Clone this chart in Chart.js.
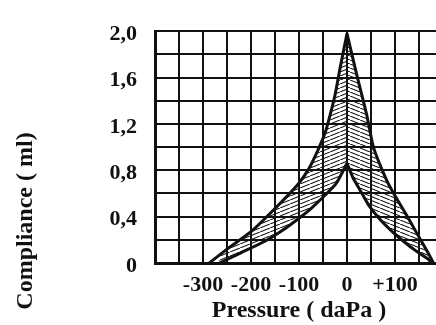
<!DOCTYPE html>
<html>
<head>
<meta charset="utf-8">
<script src="https://cdn.jsdelivr.net/npm/chart.js@4/dist/chart.umd.min.js"></script>
<style>
  html, body { margin: 0; padding: 0; background: #fff; overflow: hidden; }
  #wrap { position: relative; width: 452px; height: 325px; }
</style>
</head>
<body>
<div id="wrap"><canvas id="chart" width="452" height="325"></canvas></div>
<script>
// Curves (pressure daPa, compliance ml)
var leftOuterX  = [-287, -250, -200, -150, -102, -80, -61, -45, -35, -25, -14, 0];
var leftOuterY  = [0, 0.12, 0.27, 0.47, 0.68, 0.81, 0.97, 1.13, 1.28, 1.45, 1.69, 1.98];
var leftInnerX  = [-266, -220, -170, -135, -102, -75, -47, -22, 0];
var leftInnerY  = [0, 0.09, 0.19, 0.28, 0.38, 0.47, 0.58, 0.69, 0.86];
var rightOuterX = [0, 20, 41, 55, 82, 100, 123, 145, 170, 180];
var rightOuterY = [1.98, 1.63, 1.28, 1.0, 0.72, 0.58, 0.42, 0.26, 0.08, 0];
var rightInnerX = [0, 12, 27, 45, 68, 92, 117, 145, 170, 176];
var rightInnerY = [0.86, 0.74, 0.63, 0.5, 0.38, 0.28, 0.19, 0.1, 0.03, 0];

// Tick labels
var xTickValues = [-300, -200, -100, 0, 100];
var xTickText   = ['-300', '-200', '-100', '0', '+100'];
var yTickValues = [0, 0.4, 0.8, 1.2, 1.6, 2.0];
var yTickText   = ['0', '0,4', '0,8', '1,2', '1,6', '2,0'];

var xTitle = 'Pressure ( daPa )';
var yTitle = 'Compliance ( ml)';

function pts(xs, ys) {
    var out = [];
    for (var i = 0; i < xs.length; i++) out.push({x: xs[i], y: ys[i]});
    return out;
}

// hatch pattern, dir 1 = rising to the right, -1 = falling
function hatch(dir) {
    var w = 10, h = 4;
    var c = document.createElement('canvas');
    c.width = w; c.height = h;
    var g = c.getContext('2d');
    g.strokeStyle = '#111';
    g.lineWidth = 1.1;
    g.beginPath();
    for (var k = -1; k <= 1; k++) {
        if (dir > 0) { g.moveTo(k * w, h); g.lineTo((k + 1) * w, 0); }
        else { g.moveTo(k * w, 0); g.lineTo((k + 1) * w, h); }
    }
    g.stroke();
    return g.createPattern(c, 'repeat');
}

function findLabel(values, texts, v) {
    for (var i = 0; i < values.length; i++) {
        if (Math.abs(values[i] - v) < 1e-6) return texts[i];
    }
    return '';
}

var serif = '"Liberation Serif", "Times New Roman", serif';

// y axis title sits low in the original, draw it by hand
var yTitlePlugin = {
    id: 'yTitlePlugin',
    afterDraw: function(chart) {
        var ctx = chart.ctx;
        ctx.save();
        ctx.translate(26, 221);
        ctx.rotate(-Math.PI / 2);
        ctx.font = 'bold 24px ' + serif;
        ctx.fillStyle = '#111';
        ctx.textAlign = 'center';
        ctx.textBaseline = 'middle';
        ctx.fillText(yTitle, 0, 0);
        ctx.restore();
    }
};

var lineStyle = {
    borderColor: '#111',
    borderWidth: 3,
    pointRadius: 0,
    tension: 0.2,
    clip: false
};

new Chart(document.getElementById('chart'), {
    type: 'line',
    data: {
        datasets: [
            Object.assign({data: pts(leftOuterX, leftOuterY), fill: '+1', backgroundColor: hatch(1)}, lineStyle),
            Object.assign({data: pts(leftInnerX, leftInnerY), fill: false}, lineStyle),
            Object.assign({data: pts(rightOuterX, rightOuterY), fill: '+1', backgroundColor: hatch(-1)}, lineStyle),
            Object.assign({data: pts(rightInnerX, rightInnerY), fill: false}, lineStyle)
        ]
    },
    options: {
        responsive: false,
        animation: false,
        layout: { padding: { top: 23, right: 4, left: 0, bottom: 0 } },
        plugins: {
            legend: { display: false },
            tooltip: { enabled: false }
        },
        scales: {
            x: {
                type: 'linear',
                min: -400,
                max: 200,
                afterFit: function(scale) { scale.height = 62; },
                grid: { color: '#111', lineWidth: 2, drawTicks: false },
                border: { color: '#111', width: 3 },
                ticks: {
                    stepSize: 50,
                    autoSkip: false,
                    maxRotation: 0,
                    padding: 9,
                    color: '#111',
                    font: { family: serif, size: 22, weight: 'bold' },
                    callback: function(v) { return findLabel(xTickValues, xTickText, v); }
                },
                title: {
                    display: true,
                    text: xTitle,
                    color: '#111',
                    padding: { top: 1, bottom: 0 },
                    font: { family: serif, size: 24, weight: 'bold' }
                }
            },
            y: {
                min: 0,
                max: 2,
                afterFit: function(scale) { scale.width = 155; },
                grid: { color: '#111', lineWidth: 2, drawTicks: false },
                border: { color: '#111', width: 3 },
                ticks: {
                    stepSize: 0.2,
                    autoSkip: false,
                    padding: 18,
                    labelOffset: 3,
                    color: '#111',
                    font: { family: serif, size: 22, weight: 'bold' },
                    callback: function(v) { return findLabel(yTickValues, yTickText, v); }
                }
            }
        }
    },
    plugins: [yTitlePlugin]
});
</script>
</body>
</html>
